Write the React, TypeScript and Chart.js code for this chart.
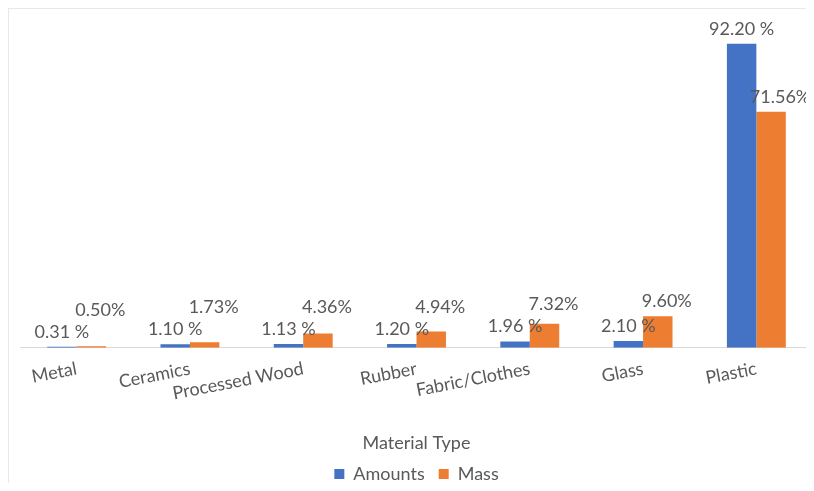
import React, { useEffect, useRef } from "react";
import { Chart, registerables } from "chart.js";

Chart.register(...registerables);

const categories = ["Metal", "Ceramics", "Processed Wood", "Rubber", "Fabric/Clothes", "Glass", "Plastic"];
const amounts = [0.31, 1.1, 1.13, 1.2, 1.96, 2.1, 92.2];
const mass = [0.5, 1.73, 4.36, 4.94, 7.32, 9.6, 71.56];
const amountLabels = ["0.31 %", "1.10 %", "1.13 %", "1.20 %", "1.96 %", "2.10 %", "92.20 %"];
const massLabels = ["0.50%", "1.73%", "4.36%", "4.94%", "7.32%", "9.60%", "71.56%"];

const FONT = "Lato, 'Open Sans', sans-serif";
const TEXT = "#595959";

const labelPlugin = {
  id: "barLabels",
  afterDatasetsDraw(chart: any) {
    const ctx = chart.ctx;
    const m0 = chart.getDatasetMeta(0);
    const m1 = chart.getDatasetMeta(1);
    ctx.save();
    ctx.font = `18px ${FONT}`;
    ctx.fillStyle = TEXT;
    ctx.textAlign = "center";
    ctx.textBaseline = "middle";
    m0.data.forEach((bar: any, i: number) => {
      const blueY = bar.y - 15;
      ctx.fillText(amountLabels[i], bar.x, blueY);
      const ob = m1.data[i];
      let oy = ob.y - 15;
      if (Math.abs(oy - blueY) < 22) oy = blueY - 22;
      ctx.fillText(massLabels[i], ob.x + 9, oy);
    });
    ctx.restore();
  },
};

export default function App() {
  const ref = useRef<HTMLCanvasElement>(null);
  useEffect(() => {
    const chart = new Chart(ref.current!, {
      type: "bar",
      data: {
        labels: categories,
        datasets: [
          { label: "Amounts", data: amounts, backgroundColor: "#4472C4", categoryPercentage: 0.52, barPercentage: 1 },
          { label: "Mass", data: mass, backgroundColor: "#ED7D31", categoryPercentage: 0.52, barPercentage: 1 },
        ],
      },
      options: {
        animation: false,
        responsive: true,
        maintainAspectRatio: false,
        layout: { padding: { top: 9, left: 11, right: 1, bottom: -2 } },
        plugins: {
          legend: {
            position: "bottom",
            labels: { boxWidth: 10, boxHeight: 10, color: TEXT, font: { family: FONT, size: 18 }, padding: 14 },
          },
          tooltip: { enabled: false },
        },
        scales: {
          x: {
            grid: { display: false, drawTicks: false },
            border: { display: true, color: "#d9d9d9", width: 1 },
            ticks: { color: TEXT, font: { family: FONT, size: 18 }, maxRotation: 11, minRotation: 11, padding: 10, autoSkip: false },
            title: { display: true, text: "Material Type", color: TEXT, font: { family: FONT, size: 18 }, padding: { top: 18, bottom: -3 } },
          },
          y: { display: false, min: 0, max: 100 },
        },
      },
      plugins: [labelPlugin],
    });
    return () => chart.destroy();
  }, []);
  return (
    <div style={{ width: 806, height: 483, marginBottom: -8, borderTop: "1px solid #e8e8e8", borderLeft: "1px solid #e8e8e8", boxSizing: "border-box", position: "relative" }}>
      <canvas ref={ref} />
    </div>
  );
}
